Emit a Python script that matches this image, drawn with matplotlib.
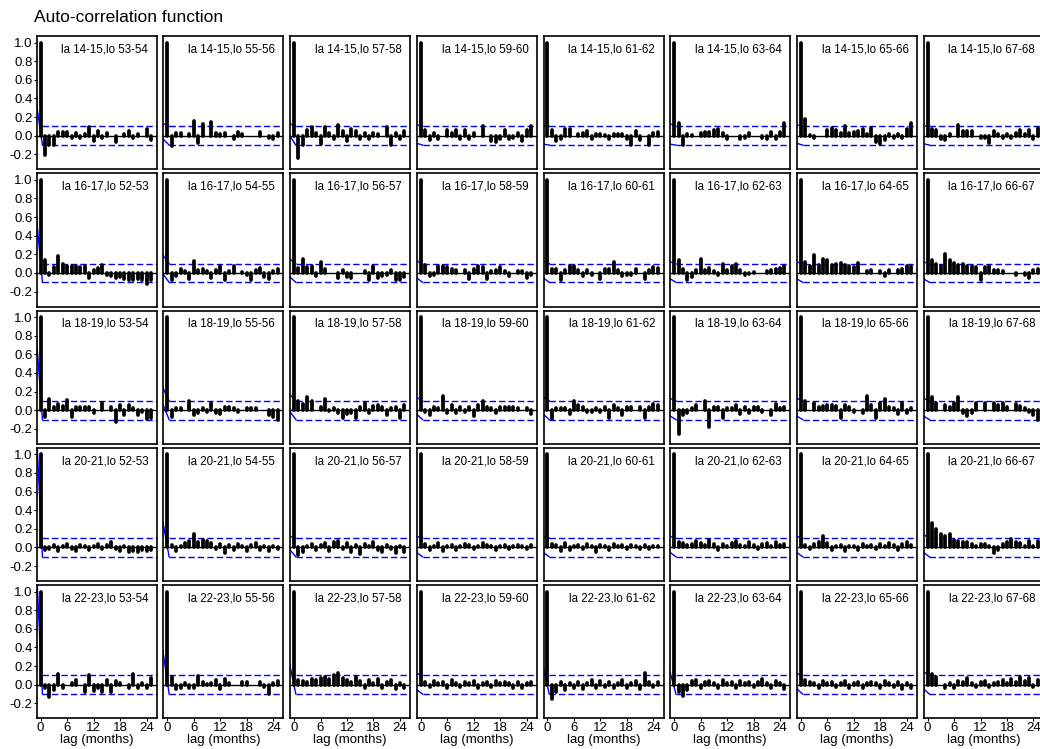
import numpy as np
import matplotlib
matplotlib.use("Agg")
import matplotlib.pyplot as plt

plt.rcParams['font.family'] = ['Liberation Sans', 'DejaVu Sans']
plt.rcParams['axes.unicode_minus'] = False

# ---------------------------------------------------------------- data
lat_bands = ["14-15", "16-17", "18-19", "20-21", "22-23"]
lon_odd = ["53-54", "55-56", "57-58", "59-60", "61-62", "63-64", "65-66", "67-68"]
lon_even = ["52-53", "54-55", "56-57", "58-59", "60-61", "62-63", "64-65", "66-67"]
lon_bands = [lon_odd, lon_even, lon_odd, lon_even, lon_odd]

# sample autocorrelation, lags 0..25 (months), one list per grid cell
acf_la14_15 = [
    [1.0, -0.21, -0.10, -0.10, 0.04, 0.04, 0.04, -0.02, 0.03, -0.02, 0.02, 0.09, -0.06, 0.05, -0.02, 0.03, 0.0, -0.07, 0.0, 0.02, 0.05, -0.02, 0.02, 0.0, 0.07, -0.05],
    [1.0, -0.11, 0.03, 0.03, 0.0, 0.02, 0.16, -0.08, 0.13, 0.0, 0.15, 0.03, 0.02, 0.03, 0.0, -0.03, 0.04, 0.02, 0.0, 0.0, 0.0, 0.04, 0.0, -0.02, -0.04, 0.03],
    [1.0, -0.24, -0.10, 0.06, 0.09, 0.03, -0.09, 0.09, 0.03, -0.04, 0.11, 0.05, -0.06, 0.07, 0.05, -0.04, 0.03, -0.03, 0.03, 0.02, 0.0, 0.09, -0.10, 0.03, -0.04, 0.05],
    [1.0, 0.06, -0.05, 0.03, -0.03, 0.0, 0.06, 0.03, 0.06, -0.03, 0.06, -0.03, 0.03, 0.0, 0.10, 0.0, -0.06, -0.07, -0.04, 0.06, -0.03, -0.02, 0.03, -0.06, 0.06, 0.10],
    [1.0, 0.06, -0.06, -0.03, 0.07, 0.07, 0.0, 0.02, 0.03, 0.05, -0.03, 0.02, 0.02, 0.01, -0.04, 0.02, 0.02, 0.02, -0.03, -0.10, 0.05, -0.05, 0.0, -0.10, 0.03, 0.04],
    [1.0, 0.14, -0.10, 0.02, 0.01, 0.0, 0.03, 0.04, 0.04, 0.06, 0.07, 0.03, -0.03, 0.0, 0.0, -0.03, -0.02, 0.03, 0.0, 0.0, -0.02, -0.03, 0.04, -0.04, 0.04, 0.14],
    [1.0, 0.18, 0.01, -0.02, 0.0, 0.0, 0.06, 0.08, 0.06, 0.03, 0.10, 0.03, 0.04, 0.05, 0.07, 0.02, 0.08, -0.07, -0.09, -0.05, 0.02, -0.02, 0.02, -0.02, 0.07, 0.14],
    [1.0, 0.07, 0.06, -0.03, -0.05, 0.02, 0.0, 0.12, 0.05, 0.05, 0.05, 0.0, -0.02, -0.02, -0.08, 0.05, 0.02, -0.02, 0.02, -0.02, 0.03, 0.06, 0.02, 0.06, -0.03, 0.08],
]
acf_la16_17 = [
    [1.0, 0.14, -0.02, 0.06, 0.18, 0.10, 0.07, 0.08, 0.07, 0.06, 0.08, -0.05, 0.03, 0.05, 0.09, -0.02, -0.03, -0.05, -0.04, -0.06, -0.08, -0.07, -0.06, -0.08, -0.12, -0.08],
    [1.0, -0.07, -0.03, 0.04, 0.02, -0.06, 0.13, 0.03, 0.04, 0.02, -0.05, 0.03, 0.07, -0.08, 0.02, 0.07, 0.0, 0.01, -0.02, -0.08, 0.03, 0.05, -0.04, -0.06, 0.02, 0.04],
    [1.0, 0.05, 0.15, 0.06, 0.07, -0.03, 0.12, 0.04, 0.0, 0.0, -0.05, 0.03, -0.04, -0.05, 0.0, 0.0, 0.02, -0.08, 0.07, -0.05, -0.03, -0.02, 0.03, -0.08, -0.08, -0.04],
    [1.0, 0.09, -0.03, -0.02, 0.08, 0.07, 0.06, 0.04, 0.03, 0.0, 0.03, -0.06, 0.04, 0.07, 0.06, -0.06, 0.02, 0.03, 0.06, 0.02, -0.03, 0.0, 0.02, 0.02, -0.05, -0.02],
    [1.0, 0.04, 0.04, -0.08, 0.03, 0.08, 0.08, 0.03, -0.03, 0.03, -0.02, 0.0, -0.06, 0.04, 0.04, 0.12, 0.03, -0.03, -0.02, -0.02, 0.04, 0.0, -0.06, 0.03, 0.06, 0.05],
    [1.0, 0.14, 0.04, -0.08, -0.04, 0.03, 0.15, 0.03, 0.05, 0.02, -0.02, 0.10, 0.03, 0.07, 0.10, 0.03, -0.02, -0.01, 0.01, 0.0, 0.0, 0.02, 0.03, 0.04, 0.05, 0.07],
    [1.0, 0.12, 0.08, 0.19, 0.09, 0.15, 0.14, 0.09, 0.10, 0.11, 0.09, 0.08, 0.06, 0.11, 0.0, 0.02, 0.03, 0.0, 0.02, -0.03, 0.03, 0.0, 0.03, 0.04, 0.07, 0.07],
    [1.0, 0.14, 0.10, 0.08, 0.20, 0.14, 0.11, 0.09, 0.10, 0.07, 0.07, 0.06, -0.07, 0.06, 0.07, 0.03, 0.03, 0.02, 0.0, 0.0, -0.02, 0.0, -0.02, -0.05, 0.03, 0.04],
]
acf_la18_19 = [
    [1.0, -0.07, 0.12, 0.03, 0.07, 0.05, 0.11, -0.07, 0.04, 0.04, 0.04, 0.03, -0.03, 0.0, 0.08, 0.0, 0.04, -0.13, 0.06, -0.05, 0.06, 0.02, -0.05, -0.02, -0.09, -0.08],
    [1.0, -0.07, 0.02, 0.02, 0.0, 0.10, -0.05, -0.03, 0.02, -0.02, 0.08, -0.03, -0.04, 0.03, 0.04, 0.02, -0.02, 0.0, 0.02, 0.02, 0.02, 0.0, 0.0, -0.05, -0.07, -0.10],
    [1.0, 0.10, 0.07, 0.14, 0.10, 0.0, 0.04, 0.12, -0.01, 0.02, -0.03, -0.08, -0.04, -0.03, -0.08, 0.03, 0.08, -0.03, 0.05, 0.06, 0.04, -0.05, 0.02, 0.04, -0.08, 0.06],
    [1.0, -0.02, -0.05, 0.03, 0.02, 0.15, -0.03, 0.06, -0.03, 0.04, -0.02, 0.03, -0.06, 0.06, 0.10, 0.03, 0.02, -0.03, 0.03, 0.04, 0.04, 0.04, 0.02, 0.0, 0.02, -0.04],
    [1.0, -0.09, 0.02, 0.02, 0.02, -0.04, 0.10, 0.06, 0.03, -0.02, -0.02, 0.02, -0.02, 0.03, -0.08, 0.06, 0.02, -0.05, 0.03, 0.04, 0.0, 0.04, -0.08, 0.04, 0.07, 0.06],
    [1.0, -0.25, -0.05, -0.03, 0.02, 0.06, 0.0, 0.10, -0.18, 0.03, 0.03, -0.08, 0.02, 0.02, 0.06, -0.04, 0.04, -0.03, 0.04, 0.03, -0.02, 0.0, -0.05, 0.07, 0.02, 0.03],
    [1.0, 0.10, 0.0, 0.08, 0.03, 0.05, 0.06, 0.06, 0.05, -0.08, 0.06, 0.03, -0.02, 0.0, -0.03, 0.15, 0.06, -0.08, 0.08, 0.12, 0.04, 0.02, -0.04, 0.08, -0.03, 0.02],
    [1.0, 0.14, 0.08, 0.0, 0.06, 0.03, 0.08, 0.14, -0.03, -0.06, -0.03, 0.08, 0.0, 0.08, 0.0, 0.08, 0.06, 0.08, 0.03, 0.0, 0.07, 0.05, 0.02, -0.02, -0.05, -0.10],
]
acf_la20_21 = [
    [1.0, -0.03, -0.02, 0.03, -0.04, 0.02, 0.04, -0.02, -0.04, 0.03, 0.02, -0.03, 0.02, 0.04, -0.02, 0.03, 0.06, -0.02, -0.04, 0.02, -0.05, -0.04, -0.05, -0.03, -0.04, -0.03],
    [1.0, 0.03, -0.04, 0.02, 0.05, 0.07, 0.15, 0.06, 0.08, 0.07, 0.05, -0.02, 0.04, -0.06, 0.03, -0.03, 0.04, 0.02, -0.04, 0.03, 0.05, -0.03, 0.02, -0.04, 0.02, -0.02],
    [1.0, -0.08, -0.05, 0.02, 0.04, -0.03, 0.03, 0.05, -0.04, 0.06, 0.07, -0.02, 0.05, -0.05, 0.03, -0.07, 0.04, 0.02, 0.06, -0.03, -0.05, 0.03, -0.02, -0.06, 0.02, -0.05],
    [1.0, 0.04, -0.03, 0.02, 0.05, -0.04, 0.02, 0.03, -0.03, 0.02, 0.04, 0.03, -0.02, 0.02, 0.05, 0.03, 0.02, -0.03, 0.02, 0.03, -0.02, 0.02, 0.03, 0.02, -0.02, 0.03],
    [1.0, 0.04, 0.03, -0.04, 0.05, -0.03, 0.02, 0.03, -0.02, 0.04, 0.02, -0.05, 0.03, 0.02, -0.03, 0.04, 0.02, 0.03, -0.02, 0.03, 0.02, -0.02, 0.03, -0.02, 0.02, 0.02],
    [1.0, 0.06, 0.05, 0.03, 0.04, 0.07, 0.05, 0.03, 0.08, 0.04, -0.03, 0.04, 0.02, 0.05, 0.07, 0.03, 0.02, 0.06, 0.03, -0.02, 0.04, 0.05, 0.02, 0.06, 0.03, 0.04],
    [1.0, 0.03, -0.02, 0.04, 0.06, 0.12, 0.05, -0.03, 0.02, 0.03, -0.04, 0.02, 0.02, -0.03, 0.04, 0.02, 0.03, -0.02, 0.04, 0.02, 0.05, 0.03, -0.03, 0.04, 0.06, 0.03],
    [1.0, 0.26, 0.20, 0.15, 0.12, 0.14, 0.08, 0.07, 0.06, 0.06, 0.04, 0.02, 0.04, 0.04, 0.02, -0.06, -0.03, 0.04, 0.06, 0.09, 0.06, 0.05, 0.02, 0.07, 0.02, 0.07],
]
acf_la22_23 = [
    [1.0, -0.04, -0.13, -0.06, 0.11, -0.03, 0.0, 0.02, 0.05, 0.0, -0.08, 0.10, -0.07, -0.03, -0.08, 0.05, -0.08, 0.04, 0.02, 0.0, -0.03, 0.11, -0.04, 0.02, -0.03, 0.07],
    [1.0, 0.08, -0.05, -0.03, 0.02, -0.04, -0.03, 0.09, 0.03, 0.01, 0.02, 0.05, -0.05, 0.06, 0.02, 0.0, 0.0, 0.03, 0.03, 0.0, 0.0, 0.03, -0.02, -0.10, 0.02, 0.04],
    [1.0, 0.05, 0.04, 0.03, 0.06, 0.05, 0.07, 0.08, 0.06, 0.10, 0.13, 0.07, 0.05, 0.03, 0.08, 0.04, -0.03, 0.05, 0.02, 0.06, -0.04, 0.03, 0.05, -0.05, 0.02, -0.03],
    [1.0, 0.03, -0.02, 0.04, 0.02, 0.03, -0.03, 0.05, 0.02, -0.02, 0.03, 0.02, 0.04, -0.03, 0.02, 0.03, -0.02, 0.04, 0.02, 0.03, 0.02, -0.04, 0.03, -0.03, 0.02, 0.03],
    [1.0, -0.15, -0.08, 0.03, -0.06, 0.02, -0.04, 0.03, -0.05, 0.02, 0.05, -0.03, 0.04, -0.02, 0.03, -0.04, 0.02, 0.05, -0.03, 0.02, 0.04, -0.05, 0.13, 0.03, -0.02, 0.03],
    [1.0, -0.08, -0.12, -0.06, 0.04, 0.05, -0.03, 0.03, 0.04, 0.02, -0.04, 0.05, 0.02, 0.03, -0.03, 0.04, 0.02, 0.03, -0.02, 0.03, 0.06, 0.02, -0.03, 0.04, 0.02, -0.05],
    [1.0, 0.05, 0.03, 0.02, -0.03, 0.04, 0.02, 0.03, -0.02, 0.02, 0.04, -0.03, 0.02, 0.03, -0.04, 0.02, 0.03, 0.02, -0.03, 0.04, 0.02, -0.02, 0.03, -0.05, 0.02, -0.04],
    [1.0, 0.12, 0.08, 0.0, -0.03, 0.02, -0.03, 0.04, 0.03, 0.07, 0.02, -0.02, 0.03, 0.04, -0.02, 0.02, 0.03, 0.05, 0.02, 0.06, 0.03, 0.08, 0.04, 0.07, -0.02, 0.05],
]
acf_rows = [acf_la14_15, acf_la16_17, acf_la18_19, acf_la20_21, acf_la22_23]

# significance band (+/-) and the value at which each band line enters from the left
ci_level = 0.1
ci_upper_start = [
    [None, 0.13, 0.13, 0.12, 0.11, 0.13, 0.12, 0.11],
    [None, 0.19, 0.15, 0.13, 0.13, 0.12, 0.12, 0.12],
    [None, 0.24, 0.17, 0.14, 0.14, 0.13, 0.13, 0.13],
    [None, None, 0.12, 0.12, 0.12, 0.12, 0.12, 0.14],
    [None, None, None, 0.12, None, None, 0.12, 0.14],
]
ci_lower_start = [
    [0.36, -0.035, 0.0, -0.08, -0.09, -0.09, -0.08, -0.085],
    [0.62, -0.01, -0.04, -0.05, -0.05, -0.06, -0.06, -0.06],
    [0.80, 0.06, -0.01, -0.04, -0.04, -0.06, -0.06, -0.06],
    [1.30, 0.27, -0.02, -0.05, -0.05, -0.05, -0.05, -0.05],
    [1.30, 0.36, 0.22, -0.05, 0.20, 0.15, -0.04, -0.04],
]

y_ticks = [-0.2, 0.0, 0.2, 0.4, 0.6, 0.8, 1.0]
x_ticks = [0, 6, 12, 18, 24]

# ---------------------------------------------------------------- layout (pixels)
W, H = 1040, 749
fig = plt.figure(figsize=(W / 100, H / 100), dpi=100)
fig.patch.set_facecolor('white')

panel_w, panel_h = 120.0, 133.3
x0, dx = 36.7, 126.7
y0, dy = 36.0, 137.25
xlim = (-0.9, 26.3)
ylim = (-0.36, 1.07)
band_x0 = 0.4

fig.text(34 / W, 1 - 17 / H, "Auto-correlation function", fontsize=12.5,
         ha='left', va='center')

for r, lat in enumerate(lat_bands):
    for c, lon in enumerate(lon_bands[r]):
        left = x0 + c * dx
        top = y0 + r * dy
        ax = fig.add_axes([left / W, 1 - (top + panel_h) / H, panel_w / W, panel_h / H])
        ax.set_xlim(*xlim)
        ax.set_ylim(*ylim)

        vals = np.asarray(acf_rows[r][c], dtype=float)
        lags = np.arange(len(vals))
        shown = vals != 0

        # significance band
        dash = (0, (4.6, 2.2))
        ax.plot([band_x0, xlim[1] + 1], [ci_level, ci_level], color='blue', lw=1.0,
                linestyle=dash, zorder=1)
        ax.plot([band_x0, xlim[1] + 1], [-ci_level, -ci_level], color='blue', lw=1.0,
                linestyle=dash, zorder=1)
        if ci_upper_start[r][c] is not None:
            ax.plot([-1.0, band_x0], [ci_upper_start[r][c], ci_level], color='blue',
                    lw=1.0, zorder=1)
        if ci_lower_start[r][c] is not None:
            ax.plot([-1.0, band_x0], [ci_lower_start[r][c], -ci_level], color='blue',
                    lw=1.0, zorder=1)

        ax.axhline(0, color='black', lw=1.0, zorder=2)
        bars = ax.vlines(lags[shown], 0, vals[shown], color='black', lw=2.7, zorder=3)
        bars.set_capstyle('round')

        ax.text(1 - 8.4 / panel_w, 1 - 13.5 / panel_h, f"la {lat},lo {lon}",
                transform=ax.transAxes, ha='right', va='center', fontsize=8.3)

        for s in ax.spines.values():
            s.set_linewidth(1.2)

        if c == 0:
            ax.set_yticks(y_ticks)
            ax.set_yticklabels([f"{v:.1f}" for v in y_ticks], fontsize=9.5)
            ax.tick_params(axis='y', length=2, width=0.8, pad=1)
        else:
            ax.set_yticks([])
        if r == len(lat_bands) - 1:
            ax.set_xticks(x_ticks)
            ax.set_xticklabels([str(v) for v in x_ticks], fontsize=9.5)
            ax.tick_params(axis='x', length=2, width=0.8, pad=1)
            ax.set_xlabel("lag (months)", fontsize=9.5, labelpad=0)
        else:
            ax.set_xticks([])

fig.savefig("out.png", dpi=100, facecolor='white')
